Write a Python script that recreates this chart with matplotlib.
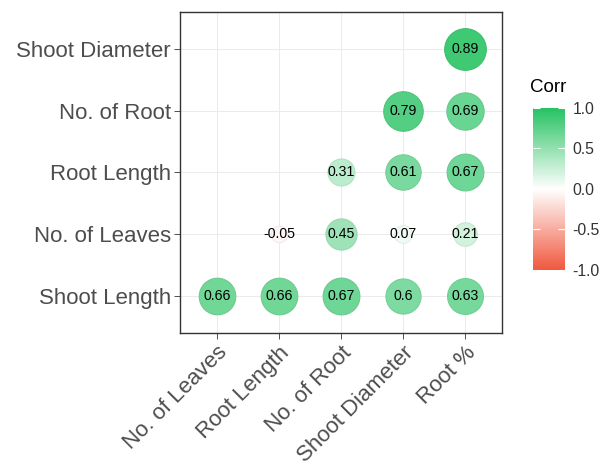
import numpy as np
import matplotlib
matplotlib.use("Agg")
from matplotlib import pyplot as plt
from matplotlib.colors import LinearSegmentedColormap
from matplotlib.cm import ScalarMappable

plt.rcParams['font.family'] = ['Liberation Sans', 'DejaVu Sans']
plt.rcParams['axes.unicode_minus'] = False

### variables
x_vars = ["No. of Leaves", "Root Length", "No. of Root", "Shoot Diameter", "Root %"]
y_vars = ["Shoot Length", "No. of Leaves", "Root Length", "No. of Root", "Shoot Diameter"]

### correlations, one row per y variable (bottom to top), nan = empty cell
corr_shoot_length = [0.66, 0.66, 0.67, 0.6, 0.63]
corr_no_leaves = [np.nan, -0.05, 0.45, 0.07, 0.21]
corr_root_length = [np.nan, np.nan, 0.31, 0.61, 0.67]
corr_no_root = [np.nan, np.nan, np.nan, 0.79, 0.69]
corr_shoot_diam = [np.nan, np.nan, np.nan, np.nan, 0.89]
###

corr = np.array([corr_shoot_length, corr_no_leaves, corr_root_length,
                 corr_no_root, corr_shoot_diam])

low_col = "#F0583E"
high_col = "#27C262"
cmap = LinearSegmentedColormap.from_list("corr", [low_col, "white", high_col])

fig = plt.figure(figsize=(6.13, 4.65), dpi=100)
ax = fig.add_axes([0.2936, 0.2839, 0.5253, 0.6903])

# circle size: area linear in |r| between size 4 and 10
vals = corr[~np.isnan(corr)]
amin = np.abs(vals).min()
amax = np.abs(vals).max()

def circ_size(r):
	sz2 = 4**2 + (abs(r) - amin) / (amax - amin) * (10**2 - 4**2)
	return (3.0 * np.sqrt(sz2))**2

for i in range(len(y_vars)):
	for j in range(len(x_vars)):
		r = corr[i, j]
		if np.isnan(r):
			continue
		fc = np.array(cmap((r + 1) / 2))
		ec = fc.copy()
		ec[:3] = ec[:3] * 0.95
		ax.scatter(j + 1, i + 1, s=circ_size(r), color=fc, edgecolors=[ec],
		           linewidths=0.8, zorder=3)
		ax.text(j + 1, i + 1, "%g" % r, ha="center", va="center",
		        fontsize=10.2, color="black", zorder=4)

ax.set_xlim(0.4, 5.6)
ax.set_ylim(0.4, 5.6)
ax.set_xticks(range(1, len(x_vars) + 1))
ax.set_yticks(range(1, len(y_vars) + 1))
ax.set_xticklabels(x_vars, rotation=45, ha="right", va="top",
                   rotation_mode="anchor", fontsize=16, color="#4D4D4D")
ax.set_yticklabels(y_vars, fontsize=16, color="#4D4D4D")
ax.tick_params(length=4, width=0.6, color="#333333", pad=2.5)
ax.grid(True, color="#EBEBEB", linewidth=0.7, zorder=0)
ax.set_axisbelow(True)
for sp in ax.spines.values():
	sp.set_color("#333333")
	sp.set_linewidth(1.0)

# legend colour bar
cax = fig.add_axes([0.8695, 0.4194, 0.0522, 0.3484])
sm = ScalarMappable(cmap=cmap, norm=plt.Normalize(-1, 1))
cb = fig.colorbar(sm, cax=cax, ticks=[-1, -0.5, 0, 0.5, 1])
cb.outline.set_visible(False)
cb.ax.set_yticklabels(["%.1f" % t for t in [-1, -0.5, 0, 0.5, 1]])
cb.ax.tick_params(direction="in", color="white", length=5, width=0.8,
                  left=True, right=True, labelsize=11.3, labelcolor="#333333", pad=5.5)
fig.text(0.8646, 0.811, "Corr", fontsize=13.5, color="black", ha="left", va="center")

fig.savefig("out.png", dpi=100)
